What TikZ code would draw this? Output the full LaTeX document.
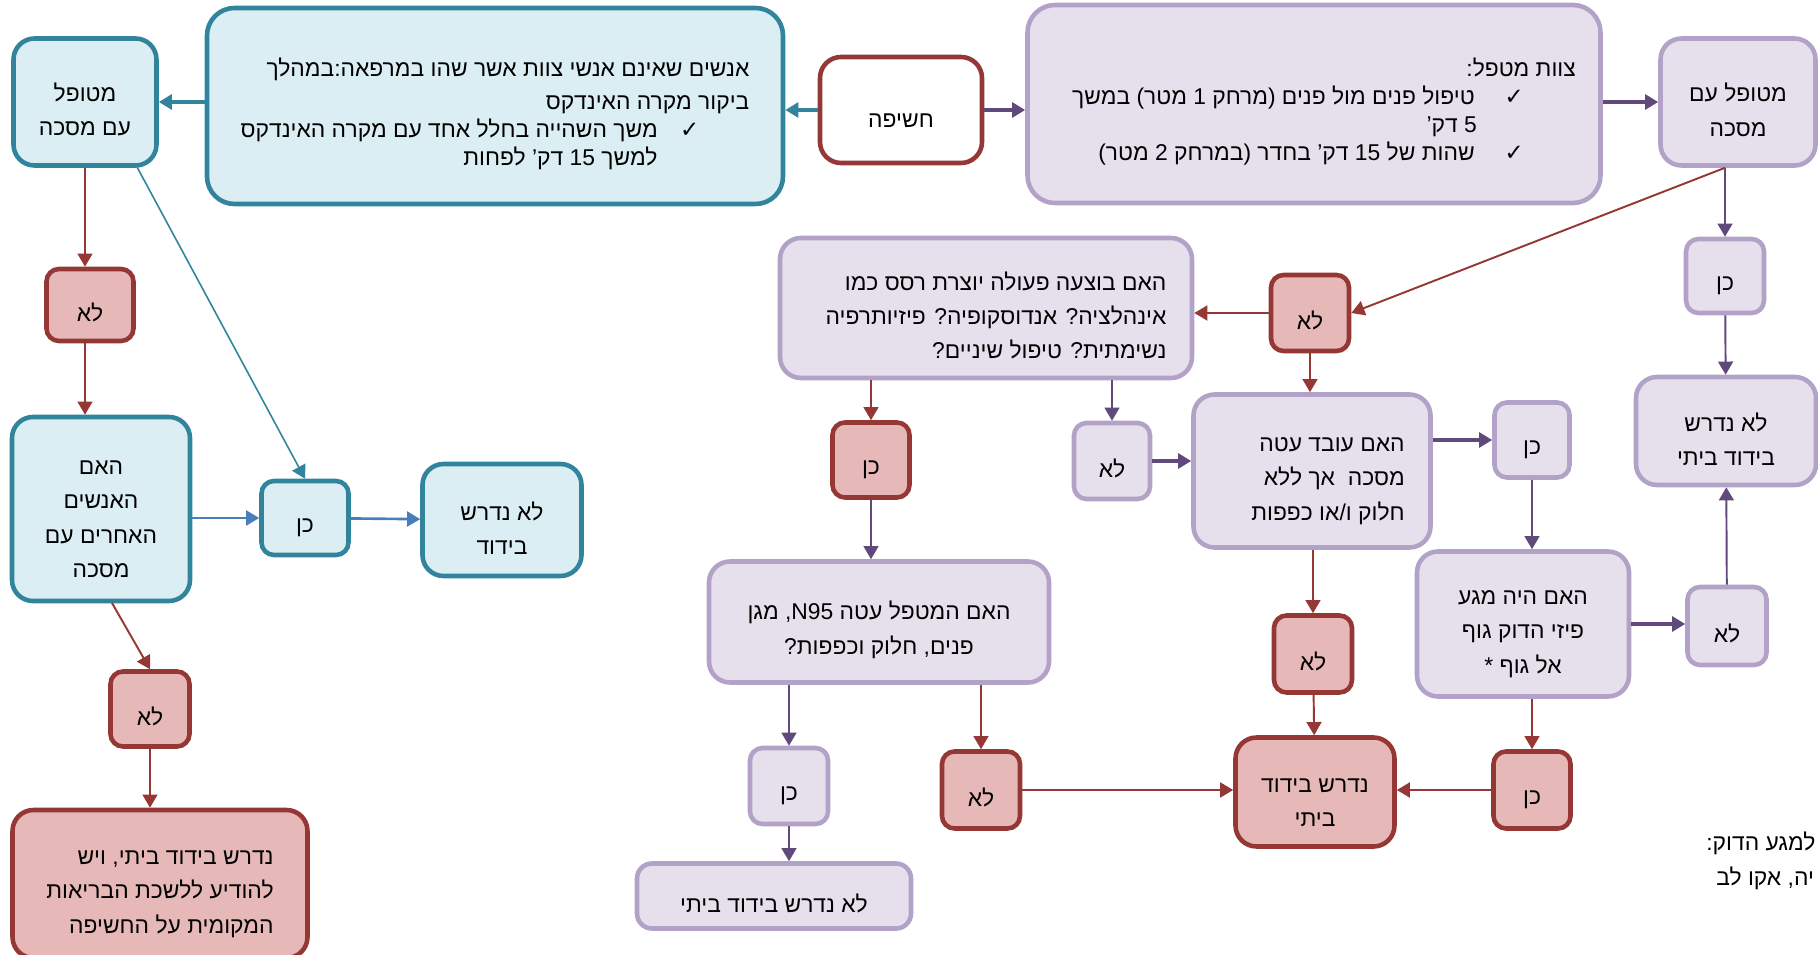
\documentclass[tikz,border=0pt]{standalone}
\usepackage{fontspec}
\setmainfont[Script=Hebrew]{Liberation Sans}
\newfontfamily\pipabetu{DejaVu Sans}
\TeXXeTstate=1
\usetikzlibrary{arrows.meta}
\definecolor{turkiz}{RGB}{49,132,155}
\definecolor{turkizv}{RGB}{218,238,243}
\definecolor{bordo}{RGB}{149,55,53}
\definecolor{bordov}{RGB}{230,185,184}
\definecolor{lila}{RGB}{96,74,123}
\definecolor{lilak}{RGB}{179,162,199}
\definecolor{lilav}{RGB}{229,224,236}
\definecolor{kek}{RGB}{74,126,187}
\newcommand{\heb}[1]{\beginR #1\endR}
\newcommand{\elso}[1]{\rule{0pt}{19.5pt}\heb{#1}}
\newcommand{\pipa}{{\pipabetu\fontsize{13}{13}\selectfont ✓}}
\newcommand{\betu}{\fontsize{13}{19.4}\selectfont}
\newcommand{\suru}{\fontsize{13}{15.9}\selectfont}

\begin{document}
\begin{tikzpicture}[x=0.02cm, y=-0.02cm,
        every node/.style={font=\betu, align=center},
        doboz/.style={draw, line width=2.6pt, rounded corners=0.42cm},
        kis/.style={doboz, rounded corners=0.25cm},
        nagy/.style={doboz, rounded corners=0.55cm},
        meret/.style 2 args={minimum width=#1*0.02cm, minimum height=#2*0.02cm},
        turk/.style={draw=turkiz, fill=turkizv},
        piros/.style={draw=bordo, fill=bordov},
        lilas/.style={draw=lilak, fill=lilav},
        nyil/.style={-{Triangle[length=7.5pt, width=8.5pt]}, line width=1.1pt},
        vastag/.style={line width=2pt},
        ]
        \useasboundingbox (0,0) rectangle (1818,955);

        \node[doboz, turk, meret={143}{127}] (Mt) at (85,102) {\elso{מטופל}\\\heb{עם מסכה}};
        \node[nagy, turk, meret={576}{196}, align=right, font=\suru] (T) at (495,106) {\elso{אנשים שאינם אנשי צוות אשר שהו במרפאה:במהלך}\\[0.1cm]\heb{ביקור מקרה האינדקס}\\\heb{\hspace*{1.0cm}\pipa\hspace{0.45cm}משך השהייה בחלל אחד עם מקרה האינדקס}\\\heb{\hspace*{1.84cm}למשך 15 דק' לפחות}};
        \node[doboz, draw=bordo, fill=white, meret={162}{106}] (E) at (901,110) {\elso{חשיפה}};
        \node[nagy, lilas, meret={573}{198}, align=right, font=\suru] (S) at (1314,104) {\elso{צוות מטפל:}\\\heb{\hspace*{1.04cm}\pipa\hspace{0.6cm}טיפול פנים מול פנים (מרחק 1 מטר) במשך\hspace*{0.4cm}}\\\heb{\hspace*{1.98cm}5 דק'}\\\heb{\hspace*{1.04cm}\pipa\hspace{0.6cm}שהות של 15 דק' בחדר (במרחק 2 מטר)}};
        \node[doboz, lilas, meret={155}{127}] (Mp) at (1738,102) {\elso{מטופל עם}\\\heb{מסכה}};

        \node[kis, piros, meret={87}{72}] (l1) at (90,305) {\elso{לא}};
        \node[doboz, turk, meret={178}{184}] (O) at (101,509) {\elso{האם}\\\heb{האנשים}\\\heb{האחרים עם}\\\heb{מסכה}};
        \node[kis, turk, meret={87}{74}] (oK) at (305,518) {\elso{כן}};
        \node[doboz, turk, meret={159}{112}] (oN) at (502,520) {\elso{לא נדרש}\\\heb{בידוד}};
        \node[kis, piros, meret={79}{75}] (l2) at (150,709) {\elso{לא}};
        \node[doboz, piros, meret={295}{148}, align=right] (R) at (160,884) {\elso{נדרש בידוד ביתי, ויש}\\\heb{להודיע ללשכת הבריאות}\\\heb{המקומית על החשיפה}};

        \node[kis, lilas, meret={78}{74}] (yR) at (1725,276) {\elso{כן}};
        \node[doboz, lilas, meret={180}{108}] (nR) at (1726,431) {\elso{לא נדרש}\\\heb{בידוד ביתי}};
        \node[kis, piros, meret={78}{76}] (lT) at (1310,313) {\elso{לא}};
        \node[doboz, lilas, meret={412}{140}, align=right] (B) at (986,308) {\elso{האם בוצעה פעולה יוצרת רסס כמו}\\\heb{אינהלציה? אנדוסקופיה? פיזיותרפיה\hspace*{0.4cm}}\\\heb{נשימתית? טיפול שיניים?}};
        \node[doboz, lilas, meret={237}{153}, align=right] (W) at (1312,471) {\elso{האם עובד עטה}\\\heb{מסכה\ \ אך ללא}\\\heb{חלוק ו/או כפפות\hspace*{0.64cm}}};
        \node[kis, lilas, meret={75}{75}] (wY) at (1532,440) {\elso{כן}};
        \node[kis, lilas, meret={76}{76}] (bL) at (1112,461) {\elso{לא}};
        \node[kis, piros, meret={77}{75}] (bK) at (871,460) {\elso{כן}};
        \node[doboz, lilas, meret={340}{121}] (N) at (879,622) {\elso{האם המטפל עטה \beginL N95\endL, מגן}\\\heb{פנים, חלוק וכפפות?}};
        \node[doboz, lilas, meret={212}{145}] (K) at (1523,624) {\elso{האם היה מגע}\\\heb{פיזי הדוק גוף}\\\heb{אל גוף *}};
        \node[kis, lilas, meret={79}{78}] (nP) at (1727,626) {\elso{לא}};
        \node[kis, piros, meret={77}{77}] (kR) at (1532,790) {\elso{כן}};
        \node[kis, piros, meret={78}{77}] (lR) at (1313,654) {\elso{לא}};
        \node[doboz, piros, meret={159}{109}] (H) at (1315,792) {\elso{נדרש בידוד}\\\heb{ביתי}};
        \node[kis, lilas, meret={78}{76}] (nK) at (789,786) {\elso{כן}};
        \node[kis, piros, meret={78}{77}] (nL) at (981,790) {\elso{לא}};
        \node[doboz, lilas, meret={274}{65}, rounded corners=0.3cm] (F) at (774,896) {\elso{לא נדרש בידוד ביתי}};

        \node[anchor=west, inner sep=0pt] (L1) at (1706,843) {\heb{למגע הדוק:}};
        \node[anchor=west, inner sep=0pt] (L2) at (1716,878) {\heb{יה, אקו לב}};

        \draw[nyil, vastag, turkiz] (E.west) -- (E.west -| T.east);
        \draw[nyil, vastag, turkiz] (T.west |- Mt.east) -- (Mt.east);
        \draw[nyil, vastag, lila] (E.east) -- (E.east -| S.west);
        \draw[nyil, vastag, lila] (S.east |- Mp.west) -- (Mp.west);

        \draw[nyil, bordo] (Mt.south) -- (Mt.south |- l1.north);
        \draw[nyil, bordo] (Mt.south |- l1.south) -- (Mt.south |- O.north);
        \coordinate (Mt1) at (137,167);
        \draw[nyil, turkiz, line width=0.9pt] (Mt1) -- (oK.north);
        \draw[nyil, kek, line width=1.5pt] (O.east |- oK.west) -- (oK.west);
        \draw[nyil, kek, line width=1.5pt] (oK) -- (oN);
        \coordinate (O1) at (112,603);
        \draw[nyil, bordo] (O1) -- (l2.north);
        \draw[nyil, bordo] (l2.south) -- (l2.south |- R.north);

        \coordinate (Mp1) at (Mp.south -| yR.north);
        \draw[nyil, lila] (Mp1) -- (yR.north);
        \draw[nyil, bordo] (Mp1) -- (lT.east);
        \draw[nyil, lila] (yR) -- (nR);
        \draw[nyil, bordo, line width=1.4pt] (lT.west) -- (lT.west -| B.east);
        \draw[nyil, bordo] (lT.south) -- (lT.south |- W.north);
        \draw[nyil, bordo] (B.south -| bK.north) -- (bK.north);
        \draw[nyil, lila] (B.south -| bL.north) -- (bL.north);
        \draw[nyil, lila] (bK.south) -- (bK.south |- N.north);
        \draw[nyil, vastag, lila] (bL.east) -- (bL.east -| W.west);
        \draw[nyil, vastag, lila] (wY.west -| W.east) -- (wY.west);
        \draw[nyil, lila] (wY.south) -- (wY.south |- K.north);
        \draw[nyil, bordo] (W.south -| lR.north) -- (lR.north);
        \draw[nyil, bordo] (lR) -- (H);
        \draw[nyil, vastag, lila] (K.east) -- (K.east -| nP.west);
        \draw[nyil, lila] (nP) -- (nR);
        \draw[nyil, bordo] (K.south -| kR.north) -- (kR.north);
        \draw[nyil, bordo, line width=1.4pt] (kR.west) -- (kR.west -| H.east);
        \draw[nyil, lila] (N.south -| nK.north) -- (nK.north);
        \draw[nyil, bordo] (N.south -| nL.north) -- (nL.north);
        \draw[nyil, lila] (nK.south) -- (nK.south |- F.north);
        \draw[nyil, bordo, line width=1.4pt] (nL.east) -- (nL.east -| H.west);
\end{tikzpicture}
\end{document}
